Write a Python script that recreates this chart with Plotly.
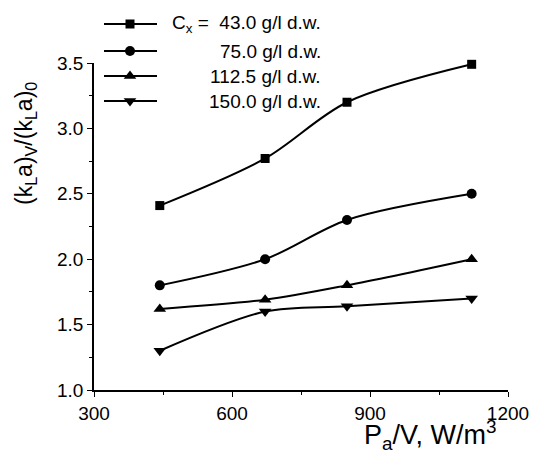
import plotly.graph_objects as go

# Specific power input P_a/V (W/m^3)
power = [443, 672, 850, 1121]

# Relative kLa values for each biomass concentration
series_names = ["43.0", "75.0", "112.5", "150.0"]
kla_43 = [2.41, 2.77, 3.20, 3.49]
kla_75 = [1.80, 2.00, 2.30, 2.50]
kla_112 = [1.62, 1.69, 1.80, 2.00]
kla_150 = [1.30, 1.60, 1.64, 1.70]

x_ticks = [300, 600, 900, 1200]
y_ticks = [1.0, 1.5, 2.0, 2.5, 3.0, 3.5]

symbols = ["square", "circle", "triangle-up", "triangle-down"]
marker_sizes = [9, 10, 11, 11]
all_series = [kla_43, kla_75, kla_112, kla_150]

FONT = "Liberation Sans, Arial, sans-serif"

# figure size and plot area edges in pixels
W, H = 533, 452
L, R, T, B = 94, 508, 63, 390

fig = go.Figure()

for vals, sym, ms in zip(all_series, symbols, marker_sizes):
    fig.add_trace(go.Scatter(
        x=power, y=vals, mode="lines+markers",
        line=dict(color="black", width=2, shape="spline", smoothing=0.9),
        marker=dict(symbol=sym, size=ms, color="black"),
        showlegend=False, cliponaxis=False,
    ))

# Legend keys drawn on a full-page overlay axis scaled in pixels
key_rows = [24, 51, 76, 101]
for sym, ms, yk in zip(symbols, marker_sizes, key_rows):
    fig.add_trace(go.Scatter(
        x=[104, 157], y=[yk, yk], mode="lines",
        line=dict(color="black", width=2),
        xaxis="x2", yaxis="y2", showlegend=False, hoverinfo="skip",
    ))
    fig.add_trace(go.Scatter(
        x=[130], y=[yk], mode="markers",
        marker=dict(symbol=sym, size=ms, color="black"),
        xaxis="x2", yaxis="y2", showlegend=False, hoverinfo="skip",
    ))

for i, (name, yk) in enumerate(zip(series_names, key_rows)):
    prefix = "C<sub>x</sub> =  " if i == 0 else ""
    fig.add_annotation(
        x=323, y=yk, xref="x2", yref="y2", xanchor="right", yanchor="middle",
        text=f"{prefix}{name} g/l d.w.", showarrow=False,
        font=dict(family=FONT, size=19, color="black"),
    )

axis_common = dict(
    showgrid=False, zeroline=False, showline=True, linecolor="black",
    linewidth=1.5, ticks="outside", ticklen=5, tickwidth=1.2,
    tickcolor="black", tickfont=dict(family=FONT, size=19, color="black"),
    mirror=False, automargin=False,
)

fig.update_layout(
    width=W, height=H,
    margin=dict(l=0, r=0, t=0, b=0, autoexpand=False),
    paper_bgcolor="white", plot_bgcolor="rgba(0,0,0,0)",
    xaxis=dict(
        domain=[L / W, R / W],
        range=[300, 1200], tickvals=x_ticks, ticktext=[str(v) for v in x_ticks],
        minor=dict(ticks="outside", ticklen=3, tickcolor="black", dtick=150),
        **axis_common,
    ),
    yaxis=dict(
        domain=[(H - B) / H, (H - T) / H],
        range=[1.0, 3.5], tickvals=y_ticks, ticktext=[f"{v:.1f}" for v in y_ticks],
        minor=dict(ticks="outside", ticklen=3, tickcolor="black", dtick=0.25),
        **axis_common,
    ),
    xaxis2=dict(domain=[0, 1], range=[0, W], anchor="y2", visible=False,
                fixedrange=True, automargin=False),
    yaxis2=dict(domain=[0, 1], range=[H, 0], anchor="x2", visible=False,
                fixedrange=True, automargin=False),
)

fig.add_annotation(
    x=430, y=435, xref="x2", yref="y2", xanchor="center", yanchor="middle",
    text="P<sub>a</sub>/V, W/m<sup>3</sup>", showarrow=False,
    font=dict(family=FONT, size=27, color="black"),
)
fig.add_annotation(
    x=25, y=144, xref="x2", yref="y2", xanchor="center", yanchor="middle",
    text="(k<sub>L</sub>a)<sub>V</sub>/(k<sub>L</sub>a)<sub>0</sub>", showarrow=False,
    textangle=-90, font=dict(family=FONT, size=23, color="black"),
)

fig.write_html("out.html")
